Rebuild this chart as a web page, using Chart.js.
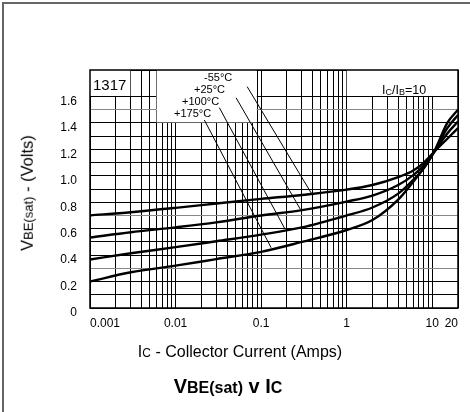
<!DOCTYPE html>
<html>
<head>
<meta charset="utf-8">
<script src="https://cdn.jsdelivr.net/npm/chart.js@4.4.1/dist/chart.umd.min.js"></script>
<style>
  body { margin: 0; background: #fff; }
  #wrap { position: relative; width: 470px; height: 412px; overflow: hidden; font-family: "Liberation Sans", Arial, sans-serif; color: #000; }
  #frame { position: absolute; left: 2px; top: 2px; width: 500px; height: 500px; border-left: 2px solid #666; border-top: 2px solid #666; }
  #chart { position: absolute; left: 0; top: 0; }
  .lbl { position: absolute; white-space: nowrap; line-height: 1; }
  .mid { transform: translate(-50%, -50%); }
  .sub { font-size: 9px; vertical-align: -1px; }
</style>
</head>
<body>
<div id="wrap">
  <div id="frame"></div>
  <canvas id="chart" width="470" height="412"></canvas>

  <div class="lbl" style="left:93px; top:77px; font-size:15px;">1317</div>
  <div class="lbl" style="left:204px; top:72px; font-size:11px;">-55°C</div>
  <div class="lbl" style="left:194px; top:84px; font-size:11px;">+25°C</div>
  <div class="lbl" style="left:182px; top:96px; font-size:11px;">+100°C</div>
  <div class="lbl" style="left:174px; top:108px; font-size:11px;">+175°C</div>
  <div class="lbl" style="left:382px; top:84px; font-size:12.5px;">I<span class="sub">C</span>/I<span class="sub">B</span>=10</div>

  <div class="lbl" style="left:27px; top:193px; font-size:16.5px; transform: translate(-50%, -50%) rotate(-90deg);">V<span style="font-size:13px">BE(sat)</span> - (Volts)</div>
  <div class="lbl mid" style="left:240px; top:352px; font-size:16px;">I<span style="font-size:12px">C</span> - Collector Current (Amps)</div>
  <div class="lbl mid" style="left:228px; top:386px; font-size:20px; font-weight:bold;">V<span style="font-size:16px">BE(sat)</span> v I<span style="font-size:16px">C</span></div>
</div>

<script>
// collector current (A) and VBE(sat) (V), IC/IB = 10
const currents = [0.001, 0.003, 0.01, 0.03, 0.1, 0.3, 1, 2, 4, 6, 8, 10.5, 15, 20];
const vbeMinus55 = [0.70, 0.724, 0.757, 0.79, 0.825, 0.855, 0.895, 0.93, 0.99, 1.04, 1.10, 1.18, 1.28, 1.36];
const vbePlus25 = [0.533, 0.573, 0.61, 0.648, 0.70, 0.74, 0.805, 0.85, 0.93, 1.005, 1.08, 1.18, 1.32, 1.41];
const vbePlus100 = [0.367, 0.414, 0.46, 0.505, 0.555, 0.61, 0.70, 0.76, 0.865, 0.97, 1.06, 1.18, 1.36, 1.46];
const vbePlus175 = [0.20, 0.27, 0.32, 0.37, 0.425, 0.50, 0.59, 0.665, 0.82, 0.955, 1.06, 1.18, 1.40, 1.50];

// leader lines from the temperature labels to their curves (-55, +25, +100, +175)
const leaderFromI = [0.0687, 0.051, 0.0325, 0.0217];
const leaderFromV = [1.674, 1.59, 1.515, 1.422];
const leaderToI = [0.386, 0.287, 0.188, 0.131];
const leaderToV = [0.868, 0.747, 0.603, 0.456];

// axes
const xTickLabels = ['0.001', '0.01', '0.1', '1', '10', '20'];
const yTickLabels = ['0', '0.2', '0.4', '0.6', '0.8', '1.0', '1.2', '1.4', '1.6'];
const xMin = 0.001, xMax = 20;
const yMin = 0, yMax = 1.8;

// blank label areas on the grid: [I from, I to, V from, V to]
const blankBoxes = [
  [0.001, 0.003, 1.6, 1.8],
  [0.006, 0.09, 1.4, 1.8],
  [1, 20, 1.6, 1.8]
];

Chart.defaults.font.family = '"Liberation Sans", Arial, sans-serif';
Chart.defaults.color = '#000';

// log grid: 1..9 per decade, up to the 20 A end
const xGridValues = [];
for (let e = -3; e <= 1; e++) {
    for (let m = 1; m <= 9; m++) {
        const v = +(m * Math.pow(10, e)).toPrecision(6);
        if (v <= xMax) xGridValues.push(v);
    }
}

const yGridValues = [];
for (let i = 0; i <= 18; i++) yGridValues.push(+(i / 10).toFixed(1));

const curve = (vals) => ({
    data: currents.map((c, i) => ({ x: c, y: vals[i] })),
    borderColor: '#000',
    borderWidth: 2.4,
    pointRadius: 0,
    fill: false,
    cubicInterpolationMode: 'monotone'
});

const leaders = leaderFromI.map((c, i) => ({
    data: [{ x: c, y: leaderFromV[i] }, { x: leaderToI[i], y: leaderToV[i] }],
    borderColor: '#000',
    borderWidth: 1,
    pointRadius: 0,
    fill: false
}));

const gridPlugin = {
    id: 'blanksAndFrame',
    beforeDatasetsDraw(chart) {
        const { ctx, chartArea: a, scales: { x, y } } = chart;
        ctx.save();
        ctx.fillStyle = '#fff';
        blankBoxes.forEach(b => {
            const x0 = x.getPixelForValue(b[0]), x1 = x.getPixelForValue(b[1]);
            const y0 = y.getPixelForValue(b[3]), y1 = y.getPixelForValue(b[2]);
            ctx.fillRect(x0, y0, x1 - x0 - 0.5, y1 - y0 - 0.5);
        });
        ctx.strokeStyle = '#000';
        ctx.lineWidth = 1.5;
        ctx.strokeRect(a.left, a.top, a.right - a.left, a.bottom - a.top);
        ctx.restore();
    }
};

new Chart(document.getElementById('chart'), {
    type: 'line',
    data: {
        datasets: [curve(vbeMinus55), curve(vbePlus25), curve(vbePlus100), curve(vbePlus175), ...leaders]
    },
    options: {
        responsive: false,
        animation: false,
        layout: { padding: { left: 0, right: 12, top: 70, bottom: 74 } },
        plugins: { legend: { display: false }, tooltip: { enabled: false } },
        scales: {
            x: {
                type: 'logarithmic',
                min: xMin,
                max: xMax,
                afterBuildTicks: (s) => { s.ticks = xGridValues.map(v => ({ value: v })); },
                afterFit: (s) => { s.height = 30; },
                border: { display: false },
                grid: { color: '#000', lineWidth: 1, drawTicks: false },
                ticks: {
                    autoSkip: false,
                    maxRotation: 0,
                    align: 'inner',
                    padding: 8,
                    font: { size: 12 },
                    callback: (v) => {
                        const hit = xTickLabels.find(l => Math.abs(parseFloat(l) - v) / v < 1e-6);
                        return hit || '';
                    }
                }
            },
            y: {
                type: 'linear',
                min: yMin,
                max: yMax,
                afterBuildTicks: (s) => { s.ticks = yGridValues.map(v => ({ value: v })); },
                afterFit: (s) => { s.width = 90; },
                border: { display: false },
                grid: {
                    drawTicks: false,
                    lineWidth: 1,
                    color: (c) => {
                        const v = Math.round(c.tick.value * 10);
                        if (v === 17) return 'rgba(0,0,0,0)';
                        if (v === 3 || v === 7 || v === 15) return '#888';
                        return '#000';
                    }
                },
                ticks: {
                    autoSkip: false,
                    padding: 13,
                    labelOffset: 5,
                    font: { size: 12 },
                    callback: (v) => {
                        const hit = yTickLabels.find(l => Math.abs(parseFloat(l) - v) < 1e-6);
                        return hit || '';
                    }
                }
            }
        }
    },
    plugins: [gridPlugin]
});
</script>
</body>
</html>
